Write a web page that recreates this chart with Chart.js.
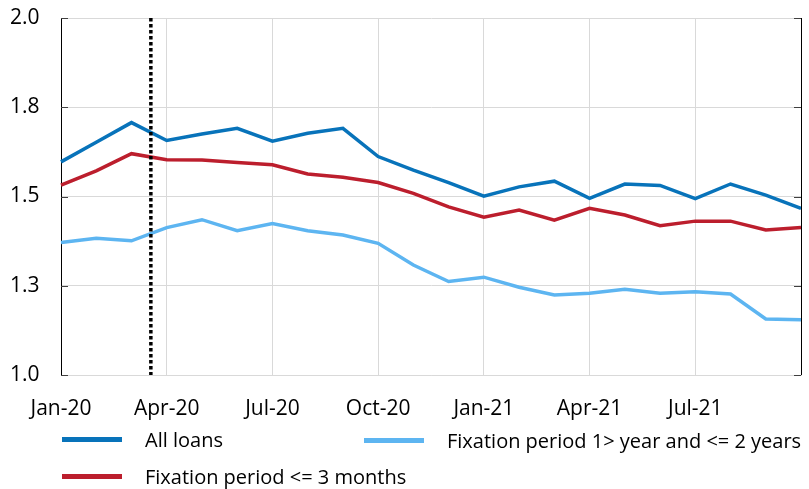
<!DOCTYPE html>
<html>
<head>
<meta charset="utf-8">
<script src="https://cdn.jsdelivr.net/npm/chart.js@4/dist/chart.umd.min.js"></script>
<style>
  html, body { margin: 0; padding: 0; background: #fff; }
  #wrap { position: relative; width: 809px; height: 489px; }
  #legend { position: absolute; left: 0; top: 0; width: 809px; height: 489px; pointer-events: none;
    font-family: "Open Sans", sans-serif; font-size: 20px; color: #000; }
  .item { position: absolute; display: flex; align-items: center; white-space: nowrap; }
  .swatch { width: 60px; height: 5px; margin-right: 23px; }
</style>
</head>
<body>
<div id="wrap">
  <canvas id="chart" width="809" height="489"></canvas>
  <div id="legend"></div>
</div>
<script>
const months = [
  "Jan-20", "Feb-20", "Mar-20", "Apr-20", "May-20", "Jun-20", "Jul-20", "Aug-20", "Sep-20", "Oct-20", "Nov-20", "Dec-20",
  "Jan-21", "Feb-21", "Mar-21", "Apr-21", "May-21", "Jun-21", "Jul-21", "Aug-21", "Sep-21", "Oct-21",
];

const allLoans = [1.597, 1.652, 1.707, 1.657, 1.675, 1.691, 1.655, 1.677, 1.691, 1.612, 1.574, 1.539,
  1.501, 1.527, 1.543, 1.495, 1.535, 1.531, 1.494, 1.535, 1.504, 1.467];
const fixUpTo3m = [1.532, 1.572, 1.620, 1.603, 1.602, 1.595, 1.589, 1.563, 1.554, 1.539, 1.509, 1.471,
  1.442, 1.462, 1.434, 1.467, 1.448, 1.418, 1.431, 1.431, 1.406, 1.413];
const fix1to2y = [1.371, 1.383, 1.376, 1.413, 1.435, 1.404, 1.424, 1.404, 1.392, 1.369, 1.308, 1.262,
  1.274, 1.246, 1.224, 1.229, 1.240, 1.229, 1.233, 1.227, 1.157, 1.155];

const yTicks = [1.0, 1.25, 1.5, 1.75, 2.0];
const yTickLabels = ["1.0", "1.3", "1.5", "1.8", "2.0"];

// mid-March 2020, as a position on the month axis
const markerIndex = 2.55;

const FONT = "'Open Sans', sans-serif";
const GRID = "#d9d9d9";

const series = [
  { label: "All loans", data: allLoans, color: "#0873BA", slot: [62, 439] },
  { label: "Fixation period 1> year and <= 2 years", data: fix1to2y, color: "#5DB5F1", slot: [364, 440] },
  { label: "Fixation period <= 3 months", data: fixUpTo3m, color: "#BC1E2D", slot: [62, 476] },
];

const frame = {
  id: "frame",
  afterDatasetsDraw(chart) {
    const { ctx, chartArea: a, scales } = chart;
    ctx.save();
    // right border
    ctx.strokeStyle = "#000";
    ctx.lineWidth = 1;
    ctx.beginPath();
    ctx.moveTo(a.right + 0.5, a.top);
    ctx.lineTo(a.right + 0.5, a.bottom);
    ctx.stroke();
    // small inward ticks on both sides
    ctx.strokeStyle = "#404040";
    for (const v of yTicks) {
      const y = Math.round(scales.y.getPixelForValue(v)) + 0.5;
      ctx.beginPath();
      ctx.moveTo(a.left, y);
      ctx.lineTo(a.left + 7, y);
      ctx.moveTo(a.right - 7, y);
      ctx.lineTo(a.right, y);
      ctx.stroke();
    }
    // dotted marker
    const x = scales.x.getPixelForValue(markerIndex);
    ctx.strokeStyle = "#000";
    ctx.lineWidth = 3.5;
    ctx.setLineDash([3.5, 2.5]);
    ctx.beginPath();
    ctx.moveTo(x, a.top);
    ctx.lineTo(x, a.bottom);
    ctx.stroke();
    ctx.restore();
  },
};

new Chart(document.getElementById("chart"), {
  type: "line",
  data: {
    labels: months,
    datasets: series.map((s) => ({
      label: s.label,
      data: s.data,
      borderColor: s.color,
      backgroundColor: s.color,
      borderWidth: 3.5,
      pointRadius: 0,
      tension: 0,
      fill: false,
    })),
  },
  options: {
    responsive: false,
    animation: false,
    layout: { padding: { top: 18, right: 8, bottom: 50, left: 10 } },
    plugins: { legend: { display: false }, tooltip: { enabled: false } },
    scales: {
      x: {
        offset: false,
        afterFit: (s) => { s.height = 64; },
        grid: {
          color: (c) => (c.index % 3 === 0 ? GRID : "transparent"),
          drawTicks: false,
        },
        border: { color: GRID },
        ticks: {
          autoSkip: false,
          maxRotation: 0,
          padding: 8,
          color: "#000",
          font: { family: FONT, size: 21, lineHeight: 2.5 },
          callback: (v, i) => (i % 3 === 0 && i < months.length - 1 ? months[i] : ""),
        },
      },
      y: {
        min: 1,
        max: 2,
        afterBuildTicks: (s) => { s.ticks = yTicks.map((v) => ({ value: v })); },
        afterFit: (s) => { s.width = 51; },
        grid: { color: GRID, drawTicks: false },
        border: { color: "#000" },
        ticks: {
          padding: 0,
          crossAlign: "far",
          color: "#000",
          font: { family: FONT, size: 21 },
          callback: (v, i) => yTickLabels[i],
        },
      },
    },
  },
  plugins: [frame],
});

const legend = document.getElementById("legend");
for (const s of series) {
  const el = document.createElement("div");
  el.className = "item";
  el.style.left = s.slot[0] + "px";
  el.style.top = (s.slot[1] - 15) + "px";
  el.style.height = "30px";
  el.innerHTML = '<span class="swatch"></span><span></span>';
  el.firstChild.style.background = s.color;
  el.lastChild.textContent = s.label;
  legend.appendChild(el);
}
</script>
</body>
</html>
